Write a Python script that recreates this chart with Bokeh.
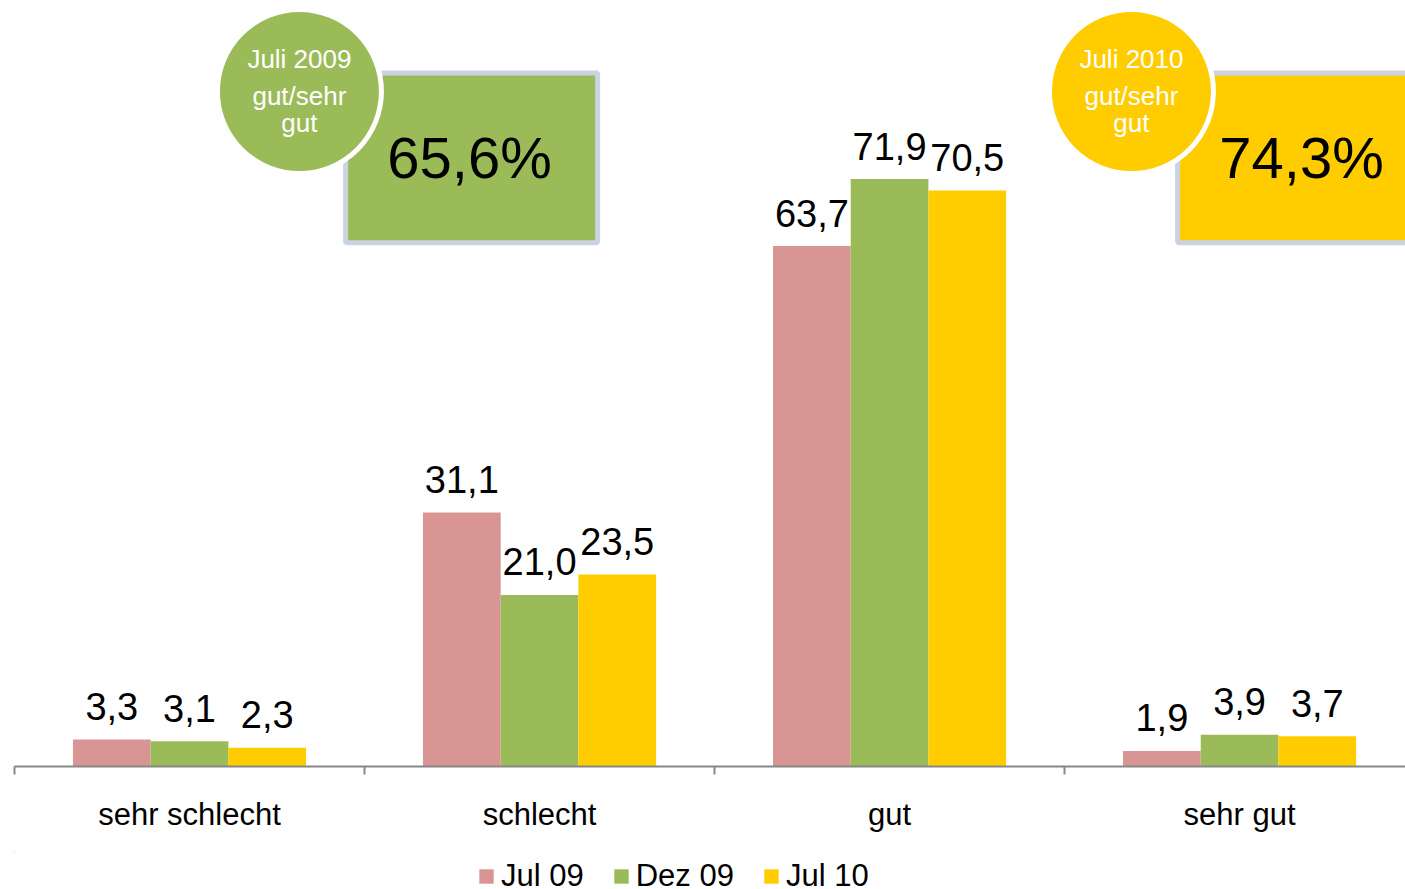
from bokeh.plotting import figure
from bokeh.layouts import column
from bokeh.models import Range1d, FixedTicker, Legend, LegendItem, ColumnDataSource
from bokeh.core.properties import value
from bokeh.embed import file_html
from bokeh.resources import INLINE

# ---------------- data ----------------
categories = ["sehr schlecht", "schlecht", "gut", "sehr gut"]
series = ["Jul 09", "Dez 09", "Jul 10"]
jul09 = [3.3, 31.1, 63.7, 1.9]
dez09 = [3.1, 21.0, 71.9, 3.9]
jul10 = [2.3, 23.5, 70.5, 3.7]
colors = ["#D99594", "#9BBB59", "#FFCC00"]

summary_titles = ["Juli 2009", "Juli 2010"]
summary_sub = ["gut/sehr", "gut/sehr"]
summary_sub2 = ["gut", "gut"]
summary_values = ["65,6%", "74,3%"]
summary_colors = ["#9BBB59", "#FFCC00"]

FONT = "Liberation Sans"

p = figure(frame_width=1391, frame_height=758, output_backend="svg", toolbar_location=None,
           x_range=Range1d(-0.5, 3.474), y_range=Range1d(0, 92.78),
           y_axis_location=None, min_border_left=14, min_border_right=0,
           min_border_top=8, min_border_bottom=85)
p.outline_line_color = None
p.xgrid.visible = False
p.ygrid.visible = False
p.background_fill_color = "white"
p.border_fill_color = "white"

xs = list(range(len(categories)))
width = 0.222
offsets = [-0.222, 0.0, 0.222]
sources = []
for vals, off, col in zip([jul09, dez09, jul10], offsets, colors):
    src = ColumnDataSource(dict(x=[x + off for x in xs], top=vals,
                                lab=[f"{v:.1f}".replace(".", ",") for v in vals]))
    sources.append(src)
    p.vbar(x="x", top="top", width=width, bottom=0, source=src,
           fill_color=col, line_color=None)
    p.text(x="x", y="top", text="lab", source=src, text_align="center",
           text_baseline="middle", y_offset=-33, text_font=value(FONT),
           text_font_size="38px", text_color="black")

# summary boxes (layout positions in data units)
box_left = [0.446, 2.823]
box_right = [1.166, 3.7]
box_bottom = 64.1
box_top = 84.9
p.quad(left=box_left, right=box_right, bottom=box_bottom, top=box_top,
       fill_color=summary_colors, line_color="#CBD3E3", line_width=5)
val_x = [0.80, 3.177]
p.text(x=val_x, y=[74.6, 74.6], text=summary_values, text_align="center",
       text_baseline="middle", text_font=value(FONT), text_font_size="58px",
       text_color="black")

circ_x = [0.314, 2.691]
circ_y = [82.62, 82.62]
p.scatter(x=circ_x, y=circ_y, size=164, marker="circle", fill_color=summary_colors,
          line_color="white", line_width=5)
for lines, yo in [(summary_titles, -33), (summary_sub, 4), (summary_sub2, 31)]:
    p.text(x=circ_x, y=circ_y, text=lines, text_align="center",
           text_baseline="middle", y_offset=yo, text_font=value(FONT),
           text_font_size="26px", text_color="white")

# axis
ax = p.xaxis[0]
ax.ticker = FixedTicker(ticks=xs, minor_ticks=[-0.5, 0.5, 1.5, 2.5, 3.5])
ax.major_label_overrides = {i: c for i, c in enumerate(categories)}
ax.major_tick_line_color = None
ax.major_tick_out = 0
ax.major_tick_in = 0
ax.minor_tick_out = 8
ax.minor_tick_in = 0
ax.minor_tick_line_color = "#878787"
ax.minor_tick_line_width = 2
ax.axis_line_color = "#878787"
ax.axis_line_width = 2
ax.major_label_standoff = 22
ax.major_label_text_font = FONT
ax.major_label_text_font_size = "31px"
ax.major_label_text_color = "black"

# legend strip below the chart (proxy bars lie far outside its visible range)
leg = figure(frame_width=1405, frame_height=38, output_backend="svg", toolbar_location=None,
             x_axis_location=None, y_axis_location=None,
             x_range=Range1d(1000, 1001), y_range=Range1d(-2000, -1000),
             min_border_left=0, min_border_right=0, min_border_top=0, min_border_bottom=0)
leg.outline_line_color = None
leg.xgrid.visible = False
leg.ygrid.visible = False
proxies = []
for src, col, name in zip(sources, colors, series):
    r = leg.vbar(x="x", top="top", width=width, bottom=0, source=src,
                 fill_color=col, line_color=None)
    proxies.append(LegendItem(label=name, renderers=[r]))
legend = Legend(items=proxies, orientation="horizontal", location=(477, -5),
                glyph_width=18, glyph_height=18, label_standoff=6, spacing=28,
                padding=0, margin=0, border_line_color=None,
                background_fill_alpha=0,
                label_text_font=FONT, label_text_font_size="31px",
                label_text_color="black")
leg.add_layout(legend, "center")

layout = column(p, leg, spacing=0)
open("out.html", "w").write(file_html(layout, INLINE))
